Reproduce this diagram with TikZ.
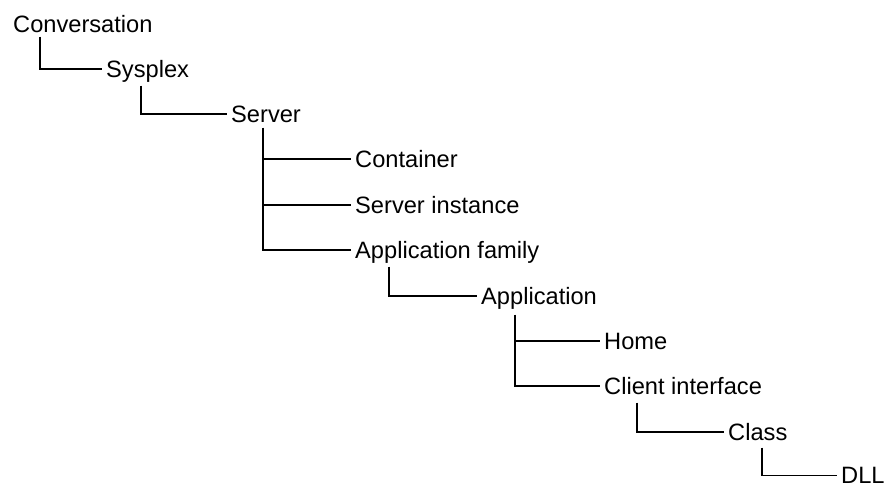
\documentclass[tikz,border=0pt]{standalone}
\usepackage{fontspec}
\setmainfont{Liberation Sans}
\begin{document}
\begin{tikzpicture}[x=1pt,y=-1pt,
  lbl/.style={anchor=west, inner xsep=4pt, inner ysep=0pt, text height=16.9pt, text depth=0pt,
              font=\fontsize{23.65pt}{28pt}\selectfont},
  conn/.style={line width=1.3pt}]
\useasboundingbox (0,0) rectangle (887,485);
\coordinate (v1) at (40,0);
\coordinate (v2) at (141,0);
\coordinate (v3) at (263,0);
\coordinate (v4) at (389,0);
\coordinate (v5) at (515,0);
\coordinate (v6) at (637,0);
\coordinate (v7) at (762,0);
\node[lbl] (conv) at (9,24) {Conversation};
\node[lbl] (sys)  at (102,69) {Sysplex};
\node[lbl] (srv)  at (227,114) {Server};
\node[lbl] (cont) at (351,159) {Container};
\node[lbl] (inst) at (351,205) {Server instance};
\node[lbl] (fam)  at (351,250) {Application family};
\node[lbl] (app)  at (477,296) {Application};
\node[lbl] (home) at (600,341) {Home};
\node[lbl] (cli)  at (600,386) {Client interface};
\node[lbl] (cls)  at (724,432) {Class};
\node[lbl] (dll)  at (837,475.5) {DLL};
\draw[conn] (v1 |- conv.south) ++(0,4) |- (sys.west);
\draw[conn] (v2 |- sys.south) ++(0,8) |- (srv.west);
\draw[conn] (v3 |- srv.south) ++(0,5) |- (fam.west);
\draw[conn] (v3 |- cont.west) -- (cont.west);
\draw[conn] (v3 |- inst.west) -- (inst.west);
\draw[conn] (v4 |- fam.south) ++(0,8) |- (app.west);
\draw[conn] (v5 |- app.south) ++(0,10) |- (cli.west);
\draw[conn] (v5 |- home.west) -- (home.west);
\draw[conn] (v6 |- cli.south) ++(0,8) |- (cls.west);
\draw[conn] (v7 |- cls.south) ++(0,7) |- (dll.west);
\end{tikzpicture}
\end{document}
